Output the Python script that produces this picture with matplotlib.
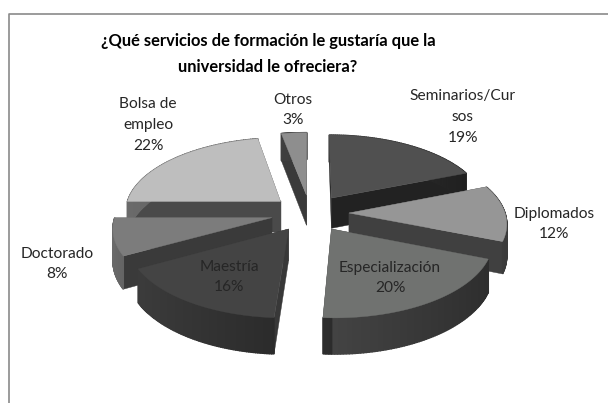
import numpy as np
import matplotlib
matplotlib.use('Agg')
import matplotlib.pyplot as plt
from matplotlib.patches import Polygon

categories = ['Seminarios/Cur\nsos', 'Diplomados', 'Especialización', 'Maestría', 'Doctorado', 'Bolsa de\nempleo', 'Otros']
shares = [19, 12, 20, 16, 8, 22, 3]
title = '¿Qué servicios de formación le gustaría que la\nuniversidad le ofreciera?'

top_colors = ['#505050', '#969696', '#707270', '#444444', '#7c7c7c', '#bebebe', '#8e8e8e']
cut_colors = ['#222222', '#404040', '#363636', '#383838', '#3a3a3a', '#4a4a4a', '#3a3a3a']
wall_light = ['#3a3a3a', '#555555', '#434343', '#3e3e3e', '#6a6a6a', '#6a6a6a', '#555555']
wall_dark = ['#1e1e1e', '#3a3a3a', '#2c2c2c', '#2a2a2a', '#3a3a3a', '#4a4a4a', '#3a3a3a']
label_pos = [(463, 117), (554, 224), (390, 278), (229, 277), (57, 264), (148, 125), (293, 110)]

#projection of the pie, pixels
cx, cy = 310, 213
radius = 156
tilt = 74
depth = 31
persp = 0.12
explode = 0.25

def project(x, y, z):
    w = 1 - persp * y
    return cx + radius * x / w, cy + (tilt * y + depth * z) / w

fig = plt.figure(figsize=(6.08, 4.03), dpi=100)
ax = fig.add_axes([0, 0, 1, 1])
ax.set_xlim(0, 608)
ax.set_ylim(403, 0)
ax.axis('off')

#chart frame, only top and left are visible in the screenshot
ax.plot([608, 8.5, 8.5], [13.5, 13.5, 403], color='#8a8a8a', lw=1.2)

total = sum(shares)
edges = np.cumsum([0] + shares) / total * 2 * np.pi

slices = []
for i in range(len(shares)):
    mid = (edges[i] + edges[i + 1]) / 2
    slices.append((explode * -np.cos(mid), i))

#back slices first so front ones cover them
for offs, i in sorted(slices):
    mid = (edges[i] + edges[i + 1]) / 2
    ox, oy = explode * np.sin(mid), -explode * np.cos(mid)
    t = np.linspace(edges[i], edges[i + 1], 80)
    xs = ox + np.sin(t)
    ys = oy - np.cos(t)

    #the two cut faces
    for ex, ey in sorted([(xs[0], ys[0]), (xs[-1], ys[-1])], key=lambda p: p[1]):
        face = [project(ox, oy, 0), project(ex, ey, 0), project(ex, ey, 1), project(ox, oy, 1)]
        ax.add_patch(Polygon(face, closed=True, fc=cut_colors[i], ec=cut_colors[i], lw=0.3))

    #outer wall as narrow strips for the shading
    c1 = np.array(matplotlib.colors.to_rgb(wall_light[i]))
    c2 = np.array(matplotlib.colors.to_rgb(wall_dark[i]))
    for j in range(len(t) - 1):
        strip = [project(xs[j], ys[j], 0), project(xs[j + 1], ys[j + 1], 0),
                 project(xs[j + 1], ys[j + 1], 1), project(xs[j], ys[j], 1)]
        if t[j] > np.pi:
            c = c2 + (c1 - c2) * abs(np.sin(t[j]))
        else:
            c = c1 + (c2 - c1) * abs(np.sin(t[j]))
        ax.add_patch(Polygon(strip, closed=True, fc=c, ec=c, lw=1.0))

    #top face
    pts = [project(ox, oy, 0)] + [project(a, b, 0) for a, b in zip(xs, ys)]
    ax.add_patch(Polygon(pts, closed=True, fc=top_colors[i], ec=top_colors[i], lw=0.3))

for i in range(len(shares)):
    ax.text(label_pos[i][0], label_pos[i][1], f'{categories[i]}\n{shares[i]}%', ha='center', va='center',
            fontsize=11.2, family='Lato', color='#262626', linespacing=1.6)

ax.text(268, 54, title, ha='center', va='center', fontsize=11.9, family='Lato', fontweight='bold',
        color='black', linespacing=1.75)

fig.savefig('out.png', dpi=100)
